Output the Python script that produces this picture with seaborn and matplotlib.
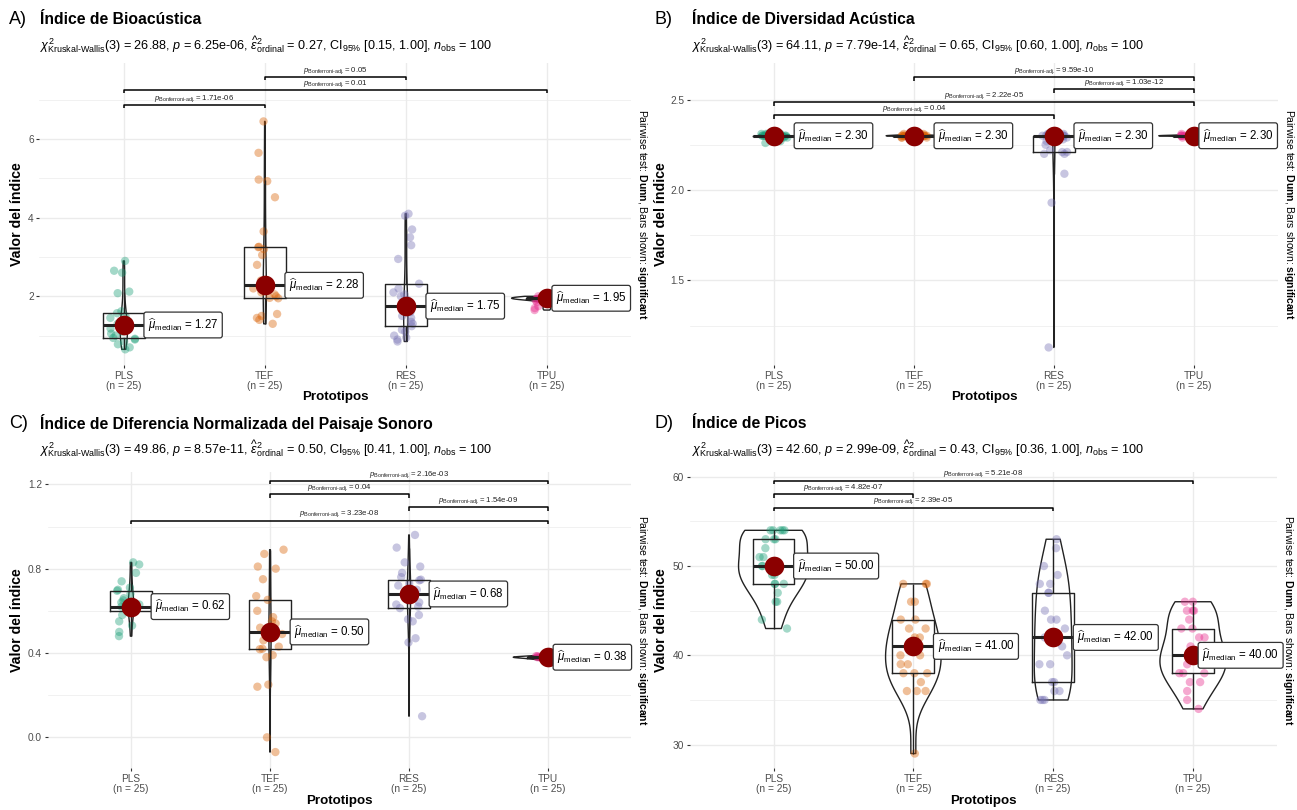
import numpy as np
import pandas as pd
import seaborn as sns
import matplotlib.pyplot as plt
from matplotlib.ticker import MultipleLocator

# categories and colours
prototipos = ['PLS', 'TEF', 'RES', 'TPU']
group_colors = ['#1B9E77', '#D95F02', '#7570B3', '#E7298A']

# A) Indice de Bioacustica
bio_pls = [0.65, 0.70, 0.78, 0.85, 0.90, 0.92, 0.94, 1.00, 1.05, 1.10, 1.18, 1.22, 1.27,
           1.30, 1.35, 1.40, 1.45, 1.50, 1.57, 1.62, 2.08, 2.12, 2.60, 2.65, 2.90]
bio_tef = [1.30, 1.40, 1.45, 1.50, 1.55, 1.95, 1.96, 2.00, 2.05, 2.10, 2.20, 2.25, 2.28,
           2.40, 2.80, 3.05, 3.20, 3.25, 3.26, 3.65, 4.52, 4.93, 4.97, 5.65, 6.45]
bio_res = [0.85, 0.90, 0.95, 1.00, 1.10, 1.15, 1.24, 1.30, 1.35, 1.45, 1.50, 1.60, 1.75,
           1.90, 2.00, 2.05, 2.10, 2.20, 2.32, 2.95, 3.30, 3.50, 3.70, 4.05, 4.10]
bio_tpu = [1.65, 1.70, 1.75, 1.85, 1.90, 1.93, 1.94, 1.94, 1.95, 1.95, 1.95, 1.95, 1.95,
           1.95, 1.95, 1.95, 1.95, 1.95, 1.96, 1.96, 1.96, 1.96, 1.97, 1.98, 2.00]

# B) Indice de Diversidad Acustica
adi_pls = [2.26, 2.27, 2.29, 2.29, 2.29, 2.29, 2.30, 2.30, 2.30, 2.30, 2.30, 2.30, 2.30,
           2.30, 2.30, 2.30, 2.30, 2.30, 2.30, 2.31, 2.31, 2.31, 2.31, 2.31, 2.31]
adi_tef = [2.29, 2.29, 2.29, 2.29, 2.29, 2.30, 2.30, 2.30, 2.30, 2.30, 2.30, 2.30, 2.30,
           2.30, 2.30, 2.30, 2.30, 2.30, 2.30, 2.30, 2.31, 2.31, 2.31, 2.31, 2.31]
adi_res = [1.13, 1.93, 2.09, 2.20, 2.20, 2.21, 2.21, 2.22, 2.25, 2.27, 2.28, 2.29, 2.30,
           2.30, 2.30, 2.30, 2.30, 2.30, 2.30, 2.30, 2.31, 2.31, 2.31, 2.31, 2.31]
adi_tpu = [2.29, 2.29, 2.29, 2.29, 2.30, 2.30, 2.30, 2.30, 2.30, 2.30, 2.30, 2.30, 2.30,
           2.30, 2.30, 2.30, 2.30, 2.30, 2.30, 2.30, 2.30, 2.31, 2.31, 2.31, 2.31]

# C) Indice de Diferencia Normalizada del Paisaje Sonoro
ndsi_pls = [0.48, 0.50, 0.53, 0.55, 0.58, 0.59, 0.60, 0.60, 0.61, 0.61, 0.62, 0.62, 0.62,
            0.63, 0.64, 0.65, 0.66, 0.68, 0.695, 0.70, 0.71, 0.74, 0.78, 0.82, 0.83]
ndsi_tef = [-0.07, 0.00, 0.24, 0.25, 0.38, 0.39, 0.418, 0.42, 0.43, 0.46, 0.48, 0.49, 0.50,
            0.52, 0.54, 0.55, 0.57, 0.60, 0.652, 0.67, 0.75, 0.80, 0.81, 0.87, 0.89]
ndsi_res = [0.10, 0.45, 0.47, 0.55, 0.56, 0.58, 0.613, 0.62, 0.63, 0.64, 0.66, 0.67, 0.68,
            0.69, 0.70, 0.72, 0.73, 0.745, 0.748, 0.76, 0.78, 0.81, 0.83, 0.90, 0.96]
ndsi_tpu = [0.36, 0.365, 0.37, 0.37, 0.37, 0.375, 0.375, 0.375, 0.375, 0.38, 0.38, 0.38, 0.38,
            0.38, 0.38, 0.38, 0.38, 0.38, 0.38, 0.385, 0.385, 0.385, 0.385, 0.39, 0.395]

# D) Indice de Picos
pk_pls = [43, 44, 46, 46, 47, 48, 48, 48, 49, 49, 50, 50, 50,
          50, 51, 51, 52, 53, 53, 53, 54, 54, 54, 54, 54]
pk_tef = [29, 36, 36, 36, 37, 38, 38, 38, 39, 39, 40, 40, 41,
          41, 42, 42, 43, 43, 44, 44, 46, 46, 48, 48, 48]
pk_res = [35, 35, 35, 36, 36, 37, 37, 39, 39, 40, 41, 42, 42,
          43, 44, 44, 45, 47, 47, 48, 48, 49, 50, 52, 53]
pk_tpu = [34, 35, 36, 37, 37, 38, 38, 38, 39, 39, 40, 40, 40,
          40, 41, 42, 42, 43, 43, 44, 45, 45, 45, 46, 46]

titles = ['Índice de Bioacústica', 'Índice de Diversidad Acústica',
          'Índice de Diferencia Normalizada del Paisaje Sonoro', 'Índice de Picos']
panel_tags = ['A)', 'B)', 'C)', 'D)']
kw_stats = [('26.88', '6.25e-06', '0.27', '[0.15, 1.00]'),
            ('64.11', '7.79e-14', '0.65', '[0.60, 1.00]'),
            ('49.86', '8.57e-11', '0.50', '[0.41, 1.00]'),
            ('42.60', '2.99e-09', '0.43', '[0.36, 1.00]')]
n_obs = 100

# significant pairwise comparisons (Dunn, Bonferroni)
pairs_a = [('TEF', 'RES', '0.05'), ('PLS', 'TPU', '0.01'), ('PLS', 'TEF', '1.71e-06')]
pairs_b = [('TEF', 'TPU', '9.59e-10'), ('RES', 'TPU', '1.03e-12'),
           ('PLS', 'TPU', '2.22e-05'), ('PLS', 'RES', '0.04')]
pairs_c = [('TEF', 'TPU', '2.16e-03'), ('TEF', 'RES', '0.04'),
           ('RES', 'TPU', '1.54e-09'), ('PLS', 'TPU', '3.23e-08')]
pairs_d = [('PLS', 'TPU', '5.21e-08'), ('PLS', 'TEF', '4.82e-07'), ('PLS', 'RES', '2.39e-05')]

panel_data = [
    [bio_pls, bio_tef, bio_res, bio_tpu],
    [adi_pls, adi_tef, adi_res, adi_tpu],
    [ndsi_pls, ndsi_tef, ndsi_res, ndsi_tpu],
    [pk_pls, pk_tef, pk_res, pk_tpu],
]
panel_pairs = [pairs_a, pairs_b, pairs_c, pairs_d]

# layout in pixels: axes box, y limits, tick steps, bracket heights
layout = [
    dict(box=(39.2, 63, 631.4, 365), ylim=(0.252, 7.936), major=2, minor=1,
         brackets=[7.58, 7.25, 6.87], xlab_y=398, ylab_x=17),
    dict(box=(690.1, 63, 1277.7, 365), ylim=(1.033, 2.702), major=0.5, minor=0.25,
         brackets=[2.623, 2.556, 2.486, 2.414], xlab_y=398, ylab_x=661),
    dict(box=(47.6, 472, 631.4, 768), ylim=(-0.1456, 1.2586), major=0.4, minor=0.2,
         brackets=[1.217, 1.154, 1.091, 1.0275], xlab_y=802, ylab_x=17),
    dict(box=(689.6, 472, 1276.9, 768), ylim=(27.38, 60.53), major=10, minor=5,
         brackets=[59.55, 58.06, 56.53], xlab_y=802, ylab_x=661),
]
title_pos = [(9, 40, 20, 45), (655, 692, 20, 45), (9, 40, 423, 449), (655, 692, 423, 449)]
label_offsets = [20, 20, 20, 5]

HY = '\u2010'  # plain hyphen inside mathtext

plt.rcParams['font.family'] = ['Liberation Sans', 'DejaVu Sans']
plt.rcParams['mathtext.fontset'] = 'custom'
plt.rcParams['mathtext.rm'] = 'Liberation Sans'
plt.rcParams['mathtext.it'] = 'Liberation Sans:italic'
plt.rcParams['mathtext.bf'] = 'Liberation Sans:bold'
plt.rcParams['mathtext.sf'] = 'Liberation Sans'

W, H = 1297, 810
fig = plt.figure(figsize=(W / 100, H / 100), dpi=100)
np.random.seed(3)

for k in range(4):
    groups = panel_data[k]
    lay = layout[k]
    left, top, right, bottom = lay['box']
    ax = fig.add_axes([left / W, 1 - bottom / H, (right - left) / W, (bottom - top) / H])

    df = pd.DataFrame({
        'Prototipos': np.repeat(prototipos, [len(g) for g in groups]),
        'valor': np.concatenate(groups),
    })

    sns.stripplot(data=df, x='Prototipos', y='valor', hue='Prototipos', palette=group_colors,
                  jitter=0.1, size=6, alpha=0.4, linewidth=0, legend=False, ax=ax, zorder=2)
    sns.boxplot(data=df, x='Prototipos', y='valor', width=0.3, fill=False, color='#222222',
                linewidth=1, showfliers=False, showcaps=False,
                medianprops={'linewidth': 2.2}, ax=ax)
    sns.violinplot(data=df, x='Prototipos', y='valor', fill=False, color='#222222', inner=None,
                   cut=0, width=0.5, density_norm='area', linewidth=1, ax=ax)

    medians = [np.median(g) for g in groups]
    ax.scatter(range(4), medians, s=200, color='#8B0000', zorder=6, linewidths=0)
    for i, m in enumerate(medians):
        ax.annotate(r"$\widehat{\mu}_{\mathrm{median}}$ = " + f"{m:.2f}", xy=(i, m),
                    xytext=(label_offsets[i] * 0.72 + 3, 0), textcoords='offset points',
                    ha='left', va='center', fontsize=8.3, zorder=7,
                    bbox=dict(boxstyle='round,pad=0.35,rounding_size=0.2', fc='white',
                              ec='#333333', lw=0.9))

    # pairwise brackets
    ppu = (bottom - top) / (lay['ylim'][1] - lay['ylim'][0])
    drop = 3.5 / ppu
    for (g1, g2, p), yb in zip(panel_pairs[k], lay['brackets']):
        x1, x2 = prototipos.index(g1), prototipos.index(g2)
        ax.plot([x1, x1, x2, x2], [yb - drop, yb, yb, yb - drop], color='black', lw=1.1,
                zorder=5, solid_capstyle='butt')
        ax.annotate(r"$\mathit{p}_{\mathrm{Bonferroni" + HY + r"adj.}}$= " + p,
                    xy=((x1 + x2) / 2, yb), xytext=(0, 4.8), textcoords='offset points',
                    ha='center', va='center', fontsize=5.6, color='#222222')

    ax.set_xlim(-0.6, 3.6)
    ax.set_ylim(*lay['ylim'])
    ax.yaxis.set_major_locator(MultipleLocator(lay['major']))
    ax.yaxis.set_minor_locator(MultipleLocator(lay['minor']))
    ax.set_xticks(range(4))
    ax.set_xticklabels([f"{c}\n(n = {len(g)})" for c, g in zip(prototipos, groups)],
                       linespacing=1.1)
    ax.grid(True, which='major', color='#EBEBEB', lw=1)
    ax.grid(True, which='minor', axis='y', color='#EBEBEB', lw=0.5)
    ax.set_axisbelow(True)
    for s in ax.spines.values():
        s.set_visible(False)
    ax.tick_params(axis='both', which='major', length=2.5, width=0.8, color='#333333',
                   labelsize=7.3, labelcolor='#4D4D4D', pad=1.5)
    ax.tick_params(axis='y', which='minor', length=0)

    ax.set_xlabel('Prototipos', fontsize=9.6, fontweight='bold')
    ax.set_ylabel('Valor del índice', fontsize=10.2, fontweight='bold')
    ax.xaxis.set_label_coords(0.5, -(lay['xlab_y'] - 7 - bottom) / (bottom - top))
    ax.yaxis.set_label_coords((lay['ylab_x'] + 7 - left) / (right - left), 0.5)

    ax.text((right + 11 - left) / (right - left), 0.5,
            r"Pairwise test: $\mathbf{Dunn}$, Bars shown: $\mathbf{significant}$",
            transform=ax.transAxes, rotation=270, ha='center', va='center', fontsize=7.5)

    chi, pval, eps, ci = kw_stats[k]
    subtitle = (r"$\chi^2_{\mathrm{Kruskal" + HY + r"Wallis}}(3)$ = " + chi
                + r", $\mathit{p}$ = " + pval
                + r", $\widehat{\varepsilon}^2_{\mathrm{ordinal}}$ = " + eps
                + r", CI$_{95\%}$ " + ci
                + r", $\mathit{n}_{\mathrm{obs}}$ = " + str(n_obs))

    tx, ttx, ty, sy = title_pos[k]
    fig.text(tx / W, 1 - ty / H, panel_tags[k], fontsize=13, ha='left', va='center')
    fig.text(ttx / W, 1 - ty / H, titles[k], fontsize=11.3, fontweight='bold',
             ha='left', va='center')
    fig.text(ttx / W, 1 - sy / H, subtitle, fontsize=9.1, ha='left', va='center')

fig.savefig('out.png', dpi=100, facecolor='white')
